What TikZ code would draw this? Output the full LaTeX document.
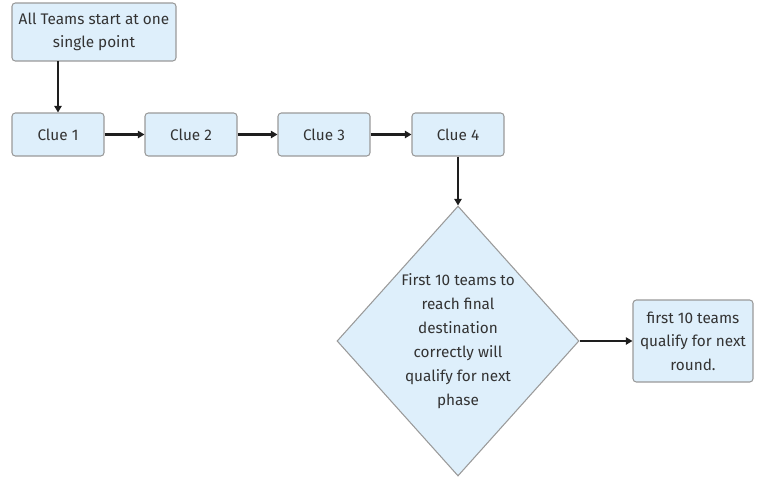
\documentclass[tikz,border=0pt]{standalone}
\usepackage{fontspec}
\setmainfont{Fira Sans}
\usetikzlibrary{shapes.geometric,arrows.meta}
\definecolor{boxfill}{HTML}{DEEFFB}
\definecolor{boxline}{HTML}{9A9A9A}
\definecolor{txt}{HTML}{333333}
\definecolor{arr}{HTML}{1E1E1E}
\tikzset{
  stepbox/.style={draw=boxline, fill=boxfill, rounded corners=2.5pt, line width=0.8pt,
    text=txt, align=center, inner sep=2pt, font=\fontsize{11.5}{17.5}\selectfont},
  decbox/.style={draw=boxline, fill=boxfill, line width=0.8pt, shape=diamond,
    text=txt, align=center, inner sep=0pt, shape aspect=0.9,
    font=\fontsize{11.5}{18}\selectfont},
  conn/.style={draw=arr, line width=1.6pt, -{Triangle[length=5pt,width=5.5pt]}}
}
\begin{document}
\begin{tikzpicture}[x=0.75pt,y=-0.75pt]
\useasboundingbox (0,0) rectangle (762,476);
\node[stepbox, minimum width=123pt, minimum height=43.5pt] (start) at (94,32) {All Teams start at one\\single point};
\node[stepbox, minimum width=69pt, minimum height=32.25pt] (c1) at (58,134.5) {Clue 1};
\node[stepbox, minimum width=69pt, minimum height=32.25pt] (c2) at (191,134.5) {Clue 2};
\node[stepbox, minimum width=69pt, minimum height=32.25pt] (c3) at (324,134.5) {Clue 3};
\node[stepbox, minimum width=69pt, minimum height=32.25pt] (c4) at (458,134.5) {Clue 4};
\node[decbox, minimum width=181.5pt, minimum height=202.5pt] (dec) at (458,341) {First 10 teams to\\reach final\\destination\\correctly will\\qualify for next\\phase};
\node[stepbox, minimum width=90pt, minimum height=61.5pt] (fin) at (693,341) {first 10 teams\\qualify for next\\round.};
\coordinate (s1) at (58,61);
\draw[conn] (s1) -- (c1.north);
\draw[conn] (c1) -- (c2);
\draw[conn] (c2) -- (c3);
\draw[conn] (c3) -- (c4);
\draw[conn] (c4) -- (dec.north);
\draw[conn] (dec.east) -- (fin.west);
\end{tikzpicture}
\end{document}
